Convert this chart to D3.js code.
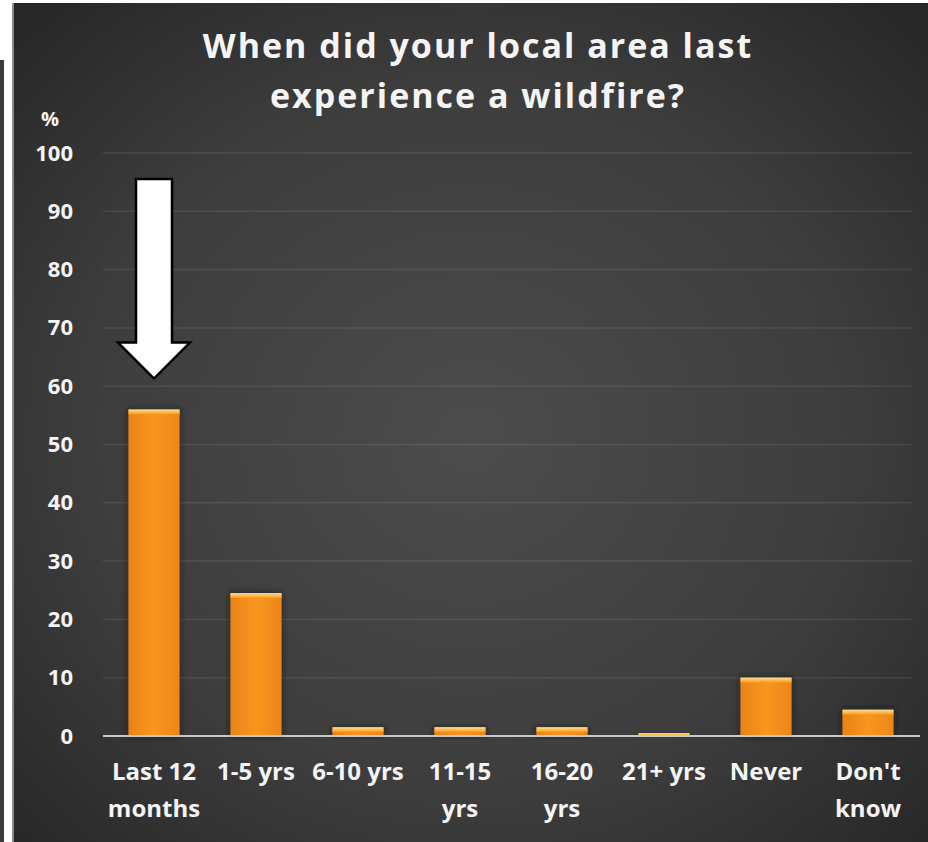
<!DOCTYPE html>
<html>
<head>
<meta charset="utf-8">
<script src="https://cdn.jsdelivr.net/npm/d3@7"></script>
<style>
  html, body { margin: 0; padding: 0; background: #ffffff; }
  svg { display: block; }
  text { font-family: "Open Sans", "DejaVu Sans", sans-serif; font-weight: 700; fill: #f4f4f4; }
</style>
</head>
<body>
<svg id="chart" width="928" height="842"></svg>
<script>
// Survey responses: when the local area last had a wildfire (% of respondents)
const categories = [
  ["Last 12", "months"],
  ["1-5 yrs"],
  ["6-10 yrs"],
  ["11-15", "yrs"],
  ["16-20", "yrs"],
  ["21+ yrs"],
  ["Never"],
  ["Don't", "know"]
];
const values = [56, 24.5, 1.5, 1.5, 1.5, 0.5, 10, 4.5];
const yTicks = [0, 10, 20, 30, 40, 50, 60, 70, 80, 90, 100];
const titleLines = ["When did your local area last", "experience a wildfire?"];
const highlighted = 0; // index of the bar the arrow points to

const W = 928, H = 842;
const svg = d3.select("#chart");
const defs = svg.append("defs");

// Dark slide-style background with a soft centre glow
const bg = defs.append("radialGradient").attr("id", "bgGrad")
  .attr("cx", "50%").attr("cy", "52%").attr("r", "70%");
bg.append("stop").attr("offset", "0%").attr("stop-color", "#4c4c4c");
bg.append("stop").attr("offset", "60%").attr("stop-color", "#3d3d3d");
bg.append("stop").attr("offset", "100%").attr("stop-color", "#272727");

const barGrad = defs.append("linearGradient").attr("id", "barGrad")
  .attr("x1", 0).attr("x2", 1).attr("y1", 0).attr("y2", 0);
barGrad.append("stop").attr("offset", "0%").attr("stop-color", "#ea8216");
barGrad.append("stop").attr("offset", "50%").attr("stop-color", "#f8961f");
barGrad.append("stop").attr("offset", "100%").attr("stop-color", "#ec8618");

const topGrad = defs.append("linearGradient").attr("id", "topGrad")
  .attr("x1", 0).attr("x2", 0).attr("y1", 0).attr("y2", 1);
topGrad.append("stop").attr("offset", "0%").attr("stop-color", "#ffe08a");
topGrad.append("stop").attr("offset", "100%").attr("stop-color", "#f8961f");

const shadow = defs.append("filter").attr("id", "barShadow")
  .attr("x", "-30%").attr("y", "-30%").attr("width", "160%").attr("height", "160%");
shadow.append("feDropShadow").attr("dx", 0).attr("dy", 0)
  .attr("stdDeviation", 3).attr("flood-color", "#151515").attr("flood-opacity", 0.9);

// Left edge strip and the slide panel
svg.append("rect").attr("x", 0).attr("y", 60).attr("width", 4).attr("height", H - 60).attr("fill", "#3a3a3a");
svg.append("rect").attr("x", 12).attr("y", 3).attr("width", W - 12).attr("height", H - 3).attr("fill", "#8a8a8a");
svg.append("rect").attr("x", 14).attr("y", 3).attr("width", W - 14).attr("height", H - 3).attr("fill", "url(#bgGrad)");

const x = d3.scaleBand()
  .domain(d3.range(categories.length))
  .range([103, 919])
  .paddingInner(0.5)
  .paddingOuter(0.25);

const y = d3.scaleLinear().domain([0, 100]).range([736, 153]);

// Horizontal gridlines
svg.append("g")
  .selectAll("line")
  .data(yTicks.filter(d => d > 0))
  .join("line")
  .attr("x1", 103).attr("x2", 912)
  .attr("y1", d => y(d)).attr("y2", d => y(d))
  .attr("stroke", "#ffffff").attr("stroke-opacity", 0.09).attr("stroke-width", 1.5);

// Y axis labels (no axis line)
const yAxis = svg.append("g")
  .attr("transform", "translate(73,0)")
  .call(d3.axisLeft(y).tickValues(yTicks).tickSize(0).tickPadding(0));
yAxis.select(".domain").remove();
yAxis.selectAll("text")
  .attr("font-family", '"Open Sans", sans-serif')
  .attr("font-weight", 700)
  .attr("font-size", 22)
  .attr("fill", "#f4f4f4");

svg.append("text").attr("x", 50).attr("y", 126)
  .attr("text-anchor", "middle").attr("font-size", 20).text("%");

// Bars
const bars = svg.append("g").selectAll("g").data(values).join("g");
bars.append("rect")
  .attr("x", (d, i) => x(i)).attr("width", x.bandwidth())
  .attr("y", d => y(d)).attr("height", d => y(0) - y(d))
  .attr("fill", "url(#barGrad)")
  .attr("filter", "url(#barShadow)");
bars.append("rect")
  .attr("x", (d, i) => x(i)).attr("width", x.bandwidth())
  .attr("y", d => y(d)).attr("height", d => Math.min(5, y(0) - y(d)))
  .attr("fill", "url(#topGrad)");

// Baseline
svg.append("line")
  .attr("x1", 103).attr("x2", 920)
  .attr("y1", y(0)).attr("y2", y(0))
  .attr("stroke", "#c8c8c8").attr("stroke-width", 2);

// Category labels
const xAxis = svg.append("g").selectAll("text").data(categories).join("text")
  .attr("x", (d, i) => x(i) + x.bandwidth() / 2)
  .attr("y", 780)
  .attr("text-anchor", "middle")
  .attr("font-size", 24);
xAxis.selectAll("tspan").data(d => d).join("tspan")
  .attr("x", function () { return d3.select(this.parentNode).attr("x"); })
  .attr("dy", (d, i) => i === 0 ? 0 : 37)
  .text(d => d);

// Title
svg.append("g").selectAll("text").data(titleLines).join("text")
  .attr("x", 478).attr("y", (d, i) => 58 + i * 50)
  .attr("text-anchor", "middle")
  .attr("font-size", 34)
  .attr("letter-spacing", 2)
  .text(d => d);

// Arrow pointing down at the highlighted bar
const cx = x(highlighted) + x.bandwidth() / 2;
const tipY = y(values[highlighted]) - 31;
const shaftHalf = 18, headHalf = 36, headLen = 36, topY = 179;
const arrow = d3.path();
arrow.moveTo(cx - shaftHalf, topY);
arrow.lineTo(cx + shaftHalf, topY);
arrow.lineTo(cx + shaftHalf, tipY - headLen);
arrow.lineTo(cx + headHalf, tipY - headLen);
arrow.lineTo(cx, tipY);
arrow.lineTo(cx - headHalf, tipY - headLen);
arrow.lineTo(cx - shaftHalf, tipY - headLen);
arrow.closePath();
svg.append("path").attr("d", arrow.toString())
  .attr("fill", "#ffffff").attr("stroke", "#000000").attr("stroke-width", 2.5)
  .attr("stroke-linejoin", "miter");
</script>
</body>
</html>
